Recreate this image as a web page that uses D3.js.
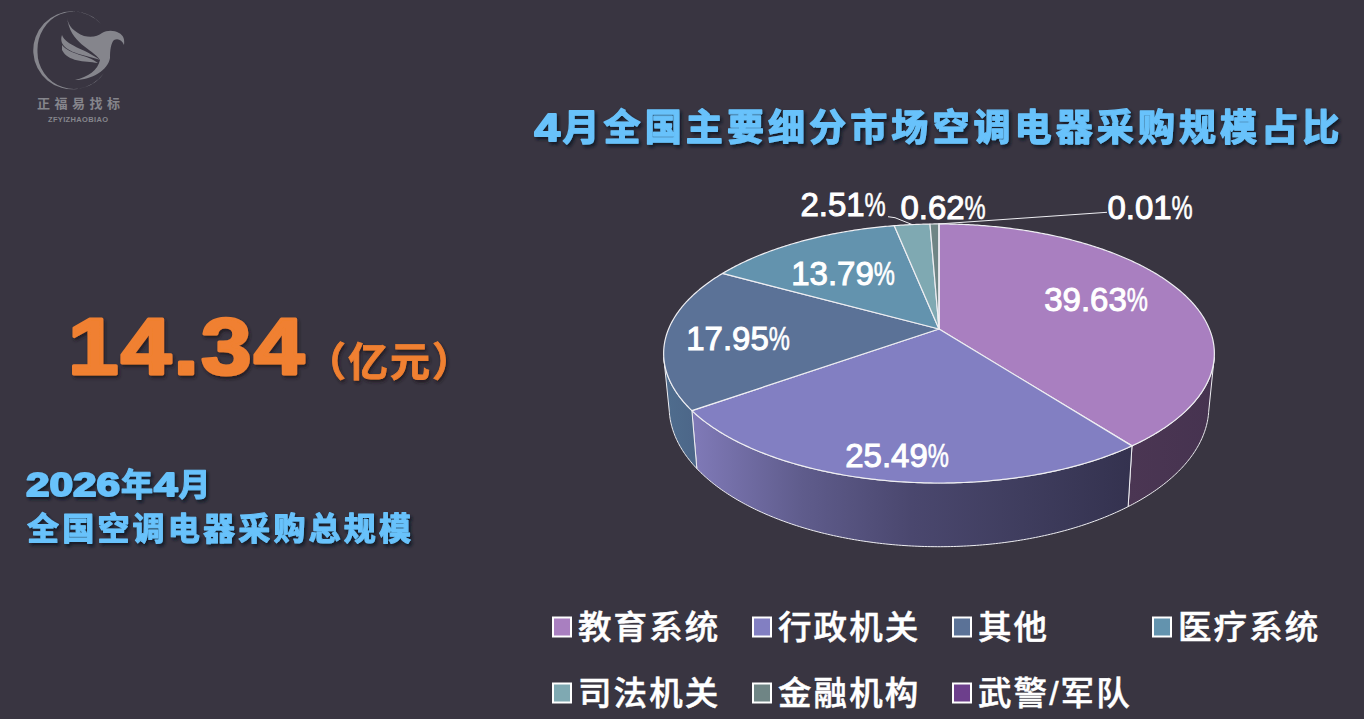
<!DOCTYPE html>
<html><head><meta charset="utf-8">
<script src="https://cdn.jsdelivr.net/npm/d3@7/dist/d3.min.js"></script>
<style>html,body{margin:0;padding:0;background:#393541;overflow:hidden}svg{display:block}</style>
</head><body><div id="chart"></div>
<script>
const categories = ["教育系统","行政机关","其他","医疗系统","司法机关","金融机构","武警/军队"];
const shares = [39.63,25.49,17.95,13.79,2.51,0.62,0.01];
const pctLabels = ["39.63","25.49","17.95","13.79","2.51","0.62","0.01"];
const colors = ["#a97fc0","#827fc2","#5b7297","#6393ae","#7fa9b2","#6f8585","#6d3f8c"];
const wallStops = [["#4b3653","#463350"],["#807ab8","#5f5c8c","#4a476e","#3f3d5e","#34324f"],["#4f6d8e","#4c6688"],["#4f6d8e"],["#4f6d8e"],["#4f6d8e"],["#4f6d8e"]];
const title = "4月全国主要细分市场空调电器采购规模占比";
const totalValue = "14.34";
const totalUnit = "（亿元）";
const subtitle = ["2026年4月","全国空调电器采购总规模"];

// label layout (centre of number + % block), separate from the data
const labelCentres = [[1096,299],[897,455],[738,338],[843,273],[843,204],[943,207],[1150,207]];
const W = 1364, H = 719, bg = "#393541";

const svg = d3.select("#chart").append("svg").attr("width",W).attr("height",H).attr("viewBox",`0 0 ${W} ${H}`);
const defs = svg.append("defs");
svg.append("rect").attr("width",W).attr("height",H).attr("fill",bg);

function shadow(id,dx,dy,blur,color,op){
  const f = defs.append("filter").attr("id",id).attr("filterUnits","userSpaceOnUse").attr("x",0).attr("y",0).attr("width",W).attr("height",H);
  f.append("feDropShadow").attr("dx",dx).attr("dy",dy).attr("stdDeviation",blur).attr("flood-color",color).attr("flood-opacity",op);
}
shadow("ts",2,2.5,1.4,"#0e1220",0.9);
shadow("os",1.5,2.5,1.5,"#24171a",0.85);

// mixed-script text: digit runs are stretched to digitAdv per glyph, other runs advance by cjkAdv per glyph
function mixedText(parent,x,y,str,o){
  const grp = parent.append("g").attr("font-weight",700).attr("fill",o.fill).attr("stroke",o.fill).attr("stroke-linejoin","round");
  let cur = x;
  (str.match(/[0-9]+|[^0-9]+/g)||[]).forEach(run=>{
    const digits = /^[0-9]/.test(run);
    const t = grp.append("text").attr("x",cur).attr("y",y).text(run);
    if(digits){
      const w = o.digitAdv*run.length;
      t.attr("font-family","'Liberation Sans'").attr("font-size",o.digitSize).attr("stroke-width",o.digitStroke)
       .attr("textLength",w).attr("lengthAdjust","spacingAndGlyphs");
      cur += w + o.gap;
    } else {
      t.attr("font-family","'Noto Sans CJK SC'").attr("font-size",o.size).attr("stroke-width",o.stroke)
       .attr("letter-spacing",o.cjkAdv-o.size);
      cur += o.cjkAdv*run.length;
    }
  });
  return grp;
}

/* logo */
const grey = "#85858c";
const logo = svg.append("g");
logo.append("path").attr("d","M101 24 A39 39 0 1 0 104 73 A36.5 37 0 0 1 37.5 51 A36.5 38 0 0 1 101 24Z").attr("fill",grey);
logo.append("path").attr("d","M67 17 C68 26 74 32 84 36 C92 38 98 36 102 33 C107 30 114 30 119 33 C123 35 125 39 124 45 C122 40 118 38 114 40 C111 43 110 50 110 58 C108 70 92 80 75 80 C88 77 98 70 100 60 C92 48 70 44 67 17Z").attr("fill",grey);
logo.append("path").attr("d","M62 35 C66 46 84 48 100 60 C86 55 68 54 62 43 C61 40 61 38 62 35Z").attr("fill",grey);
logo.append("path").attr("d","M62 45 C70 55 86 54 98 63 C84 61 68 62 62 50Z").attr("fill",grey);
logo.append("text").attr("x",37).attr("y",107.5)
  .attr("font-family","'Noto Sans CJK SC'").attr("font-size",13).attr("letter-spacing",4.5).attr("fill",grey).attr("font-weight",700).text("正福易找标");
logo.append("text").attr("x",48).attr("y",122)
  .attr("font-family","'Liberation Sans'").attr("font-weight",700).attr("font-size",7.5).attr("textLength",60).attr("fill",grey).text("ZFYIZHAOBIAO");

/* title */
const blue = "#68c2fb";
mixedText(svg,534.5,141,title,{fill:blue,size:37,stroke:1.3,cjkAdv:41.1,digitSize:38,digitAdv:25.5,digitStroke:2,gap:2.5}).attr("filter","url(#ts)");

/* left block */
const orange = "#f08030";
const bigGroup = svg.append("g").attr("filter","url(#os)");
bigGroup.append("text").attr("transform","translate(68,374) scale(1.135,1)")
  .attr("font-family","'Liberation Sans'").attr("font-weight",700).attr("font-size",80).attr("letter-spacing",2)
  .attr("fill",orange).attr("stroke",orange).attr("stroke-width",3).attr("stroke-linejoin","round").text(totalValue);
bigGroup.append("text").attr("x",306).attr("y",376)
  .attr("font-family","'Noto Sans CJK SC'").attr("font-weight",700).attr("font-size",40).attr("letter-spacing",2)
  .attr("fill",orange).attr("stroke",orange).attr("stroke-width",0.8).text(totalUnit);
mixedText(svg,26,496,subtitle[0],{fill:blue,size:32,stroke:1.1,cjkAdv:33,digitSize:33,digitAdv:23.5,digitStroke:1.8,gap:1}).attr("filter","url(#ts)");
mixedText(svg,27,540,subtitle[1],{fill:blue,size:32,stroke:1.1,cjkAdv:35.2}).attr("filter","url(#ts)");

/* pie: d3.pie angles projected through a perspective tilt */
const cx=939, cy=329, R=270.4, S=124.9, k=0.189;
const pie = d3.pie().value(d=>d).sort(null);
const arcs = pie(shares);
const px = a => { const s=Math.sin(a), c=Math.cos(a); return [cx+R*s/(1+k*c), cy-S*c/(1+k*c)]; };
const lowerX = d3.scaleLinear().domain([cx-1,cx+1]).range([cx-0.98,cx+0.98]);
const lowerY = d3.scaleLinear().domain([483,353.5]).range([546.7,406.9]);
const low = a => { const p=px(a); return [lowerX(p[0]),lowerY(p[1])]; };
const sample = (a0,a1) => { const n=Math.max(2,Math.ceil(Math.abs(a1-a0)/0.01)); return d3.range(n+1).map(i=>a0+(a1-a0)*i/n); };
const line = d3.line();
const tau = Math.PI*2, wallFrom = 0.285*tau, wallTo = 0.715*tau;
const g = svg.append("g");
const edge = "#eeeef2";

arcs.forEach((d,i)=>{
  const a0=Math.max(d.startAngle,wallFrom), a1=Math.min(d.endAngle,wallTo);
  if(a1<=a0) return;
  const top=sample(a0,a1).map(px), bot=sample(a1,a0).map(low);
  const ext=d3.extent(top.concat(bot),p=>p[0]);
  const gid="wall"+i;
  const lg=defs.append("linearGradient").attr("id",gid).attr("gradientUnits","userSpaceOnUse")
    .attr("x1",ext[0]).attr("x2",ext[1]).attr("y1",0).attr("y2",0);
  const st=wallStops[i];
  st.forEach((c,j)=>lg.append("stop").attr("offset",st.length>1?j/(st.length-1):0).attr("stop-color",c));
  g.append("path").attr("d",line(top.concat(bot))+"Z").attr("fill",`url(#${gid})`)
    .attr("stroke",edge).attr("stroke-width",1).attr("stroke-linejoin","round");
});
arcs.forEach((d,i)=>{
  const pts=[[cx,cy]].concat(sample(d.startAngle,d.endAngle).map(px));
  g.append("path").attr("d",line(pts)+"Z").attr("fill",colors[i])
    .attr("stroke",edge).attr("stroke-width",1.2).attr("stroke-linejoin","round");
});

/* leader lines: from slice rim midpoints to their labels */
const rim = i => px((arcs[i].startAngle+arcs[i].endAngle)/2);
g.append("path").attr("d",line([[888,216.7],[895,217.7],rim(4)])).attr("fill","none").attr("stroke",edge).attr("stroke-width",1);
g.append("path").attr("d",line([[1107,212.3],rim(6)])).attr("fill","none").attr("stroke",edge).attr("stroke-width",1);

/* value labels: number + condensed % */
const labels = svg.append("g").attr("fill","#fff").attr("font-family","'Liberation Sans'").attr("font-size",33).attr("stroke","#fff").attr("stroke-width",1);
pctLabels.forEach((t,i)=>{
  const c=labelCentres[i];
  const numW=t.length*18.35-9.17;
  const total=numW+21;
  const x0=c[0]-total/2, y=c[1]+12;
  labels.append("text").attr("x",x0).attr("y",y).text(t);
  labels.append("text").attr("transform",`translate(${x0+numW},${y}) scale(0.72,1)`).attr("stroke-width",0.6).text("%");
});

/* legend */
const col = d3.scalePoint().domain(d3.range(4)).range([553,1153]);
const row = d3.scalePoint().domain(d3.range(2)).range([627,693]);
const leg = svg.selectAll("g.leg").data(categories).join("g").attr("class","leg")
  .attr("transform",(d,i)=>`translate(${col(i%4)},${row(Math.floor(i/4))})`);
leg.append("rect").attr("x",0).attr("y",-9.5).attr("width",18).attr("height",19).attr("fill",(d,i)=>colors[i])
  .attr("stroke","#fff").attr("stroke-width",2);
leg.append("text").attr("x",25).attr("y",12).attr("font-family","'Liberation Sans','Noto Sans CJK SC'").attr("font-weight",500)
  .attr("font-size",33.5).attr("fill","#fff").attr("stroke","#fff").attr("stroke-width",0.5).attr("letter-spacing",2.1).text(d=>d);
</script></body></html>
